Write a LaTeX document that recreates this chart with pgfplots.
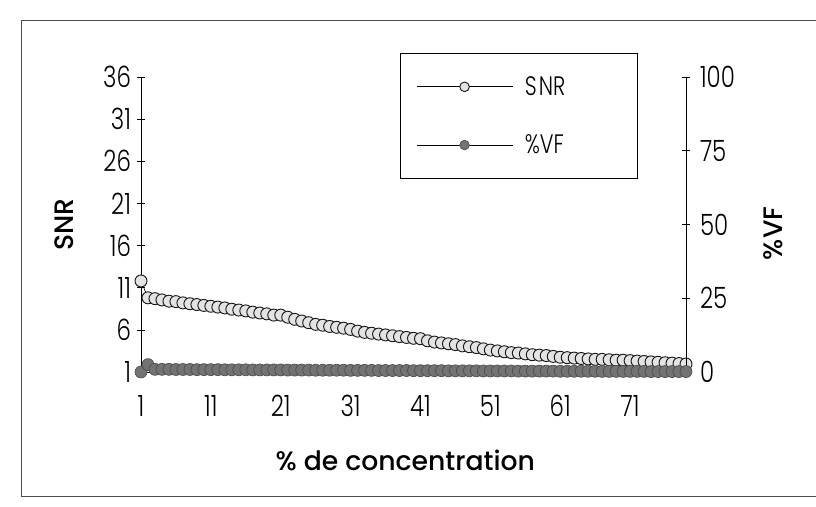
\documentclass[border=0pt]{standalone}
\usepackage{pgfplots}
\usepackage{pgfplotstable}
\pgfplotsset{compat=1.18}
\usepackage{fontspec}
\setmainfont{Poppins}
\newfontfamily\lightfont{Poppins Light}[FakeStretch=0.78]
\newfontfamily\medfont{Poppins Medium}

% x = % de concentration (category), snr = SNR (left axis), vf = %VF (right axis)
\pgfplotstableread{
x snr vf
1 11.8 0.0
2 9.8 2.5
3 9.7 0.9
4 9.55 0.9
5 9.4 0.9
6 9.35 0.85
7 9.2 0.85
8 9.1 0.85
9 9.0 0.8
10 8.9 0.8
11 8.8 0.8
12 8.7 0.8
13 8.6 0.75
14 8.45 0.75
15 8.35 0.75
16 8.25 0.75
17 8.1 0.7
18 8.0 0.7
19 7.9 0.7
20 7.75 0.7
21 7.75 0.7
22 7.5 0.65
23 7.25 0.65
24 7.05 0.65
25 6.85 0.65
26 6.65 0.6
27 6.55 0.6
28 6.4 0.6
29 6.3 0.6
30 6.2 0.6
31 6.05 0.55
32 5.85 0.55
33 5.7 0.55
34 5.6 0.55
35 5.5 0.5
36 5.4 0.5
37 5.3 0.5
38 5.2 0.5
39 5.1 0.5
40 5.0 0.45
41 4.95 0.45
42 4.7 0.45
43 4.55 0.45
44 4.45 0.45
45 4.35 0.4
46 4.25 0.4
47 4.1 0.4
48 4.0 0.4
49 3.9 0.4
50 3.75 0.35
51 3.6 0.35
52 3.5 0.35
53 3.4 0.35
54 3.3 0.35
55 3.25 0.3
56 3.15 0.3
57 3.05 0.3
58 3.0 0.3
59 2.95 0.3
60 2.85 0.3
61 2.75 0.25
62 2.7 0.25
63 2.65 0.25
64 2.6 0.25
65 2.55 0.25
66 2.5 0.25
67 2.5 0.2
68 2.45 0.2
69 2.4 0.2
70 2.4 0.2
71 2.35 0.2
72 2.3 0.2
73 2.25 0.2
74 2.2 0.15
75 2.15 0.15
76 2.1 0.15
77 2.05 0.15
78 2.0 0.15
79 1.95 0.15
}\datatable

\pgfplotsset{
  snrstyle/.style={black, line width=0.5pt, mark=*, mark options={fill=gray!22, draw=black!90, line width=0.7pt}},
  vfstyle/.style={black, line width=0.5pt, mark=*, mark options={fill=black!55, draw=black!70, line width=0.5pt}},
}

\begin{document}
\begin{tikzpicture}
\useasboundingbox (0,0) rectangle (612pt,379.5pt);
\clip (0,0) rectangle (612pt,379.5pt);
\draw[line width=0.6pt, black!70] (16pt,7.5pt) rectangle (640pt,364.5pt);

\begin{axis}[
    at={(105.75pt,100.5pt)}, anchor=south west,
    scale only axis, width=408.75pt, height=221.25pt,
    xmin=1, xmax=79, ymin=1, ymax=36,
    axis y line*=left, axis x line*=bottom,
    axis line style={line width=0.5pt, -},
    xtick={1,11,...,71}, ytick={1,6,...,36},
    tick align=center, major tick length=6pt,
    xtick style={draw=none},
    ytick style={black, line width=0.5pt},
    /pgf/number format/assume math mode=true,
    ticklabel style={font=\lightfont\fontsize{22}{22}\selectfont},
    xticklabel style={yshift=-11pt},
    yticklabel style={xshift=-1pt},
    ylabel={SNR},
    ylabel style={font=\medfont\fontsize{20}{20}\selectfont, at={(axis description cs:-0.14,0.5)}, anchor=center},
    xlabel={\% de concentration},
    xlabel style={font=\medfont\fontsize{20}{20}\selectfont, at={(axis description cs:0.485,-0.3)}, anchor=center},
]
\addplot[snrstyle, mark size=4.5pt] table[x=x, y=snr] {\datatable};
\end{axis}

\begin{axis}[
    at={(105.75pt,100.5pt)}, anchor=south west,
    scale only axis, width=408.75pt, height=221.25pt,
    xmin=1, xmax=79, ymin=0, ymax=100,
    axis y line*=right, axis x line=none,
    axis line style={line width=0.5pt, -},
    ytick={0,25,...,100},
    tick align=center, major tick length=6pt,
    ytick style={black, line width=0.5pt},
    /pgf/number format/assume math mode=true,
    ticklabel style={font=\lightfont\fontsize{22}{22}\selectfont},
    yticklabel style={xshift=4pt},
    ylabel={\%VF},
    ylabel style={font=\medfont\fontsize{20}{20}\selectfont, at={(axis description cs:1.16,0.47)}, anchor=center, rotate=0},
    legend style={at={(axis description cs:0.475,1.08)}, anchor=north west,
      draw=black, line width=0.5pt, inner xsep=12pt, inner ysep=14pt, row sep=22pt,
      font=\lightfont\fontsize{20}{20}\selectfont,
      nodes={inner sep=3pt, anchor=west}},
    legend cell align=left,
    legend image code/.code={\draw[mark repeat=2, mark phase=2, #1] plot coordinates {(0pt,0pt) (36pt,0pt) (72pt,0pt)};},
]
\addplot[vfstyle, mark size=4.5pt, forget plot] table[x=x, y=vf] {\datatable};
\addlegendimage{snrstyle, mark size=3.6pt}
\addlegendentry{\makebox[75pt][l]{\hspace{6pt}S\kern1.5pt NR}}
\addlegendimage{vfstyle, mark size=3.6pt}
\addlegendentry{\makebox[75pt][l]{\hspace{6pt}\%VF}\rule[-18pt]{0pt}{18pt}}
\end{axis}
\end{tikzpicture}
\end{document}
